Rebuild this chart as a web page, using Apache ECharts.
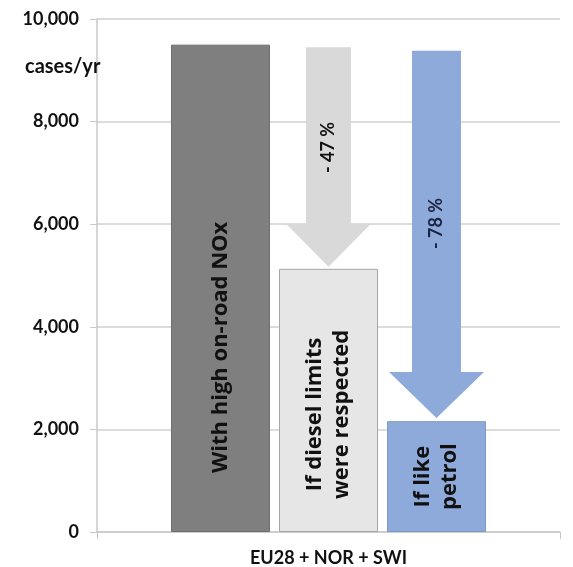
<!DOCTYPE html>
<html>
<head>
<meta charset="utf-8">
<script src="https://cdn.jsdelivr.net/npm/echarts@6/dist/echarts.min.js"></script>
<style>
  html, body { margin: 0; padding: 0; background: #fff; }
  #chart { width: 573px; height: 567px; }
</style>
</head>
<body>
<div id="chart"></div>
<script>
// data
var categories = ['EU28 + NOR + SWI'];
var seriesNames = ['With high on-road NOx', 'If diesel limits\nwere respected', 'If like\npetrol'];
var values = [9500, 5130, 2160];
var barColors = ['#7f7f7f', '#e6e6e6', '#8eaadb'];
var barBorders = ['#6f6f6f', '#a6a6a6', '#7f98c4'];
// label is rotated, so the shift runs along the text direction (negative = down)
var labelShift = [-59, -14, 0];

// arrows: from value, to value, which bar slot they sit on (-1,0,1)
var arrowFrom = [9450, 9380];
var arrowTo = [5170, 2220];
var arrowSlot = [0, 1];
var arrowLabels = ['- 47 %', '- 78 %'];
var arrowColors = ['#d9d9d9', '#8eaadb'];
var arrowTextColors = ['#111', '#1b2440'];

var yTicks = [0, 2000, 4000, 6000, 8000, 10000];

var FONT = 'Lato, "Open Sans", sans-serif';
var BAR_FONT = '"Open Sans", Lato, sans-serif';
var BAR_W = 99;
var GAP = 9;

var chart = echarts.init(document.getElementById('chart'));

var barSeries = values.map(function (v, i) {
    return {
        name: seriesNames[i],
        type: 'bar',
        barWidth: BAR_W,
        barGap: (GAP / BAR_W * 100).toFixed(1) + '%',
        data: [v],
        itemStyle: {
            color: barColors[i],
            borderColor: barBorders[i],
            borderWidth: 1
        },
        label: {
            show: true,
            position: 'inside',
            rotate: 90,
            offset: [labelShift[i], 0],
            formatter: seriesNames[i],
            color: '#111',
            fontFamily: BAR_FONT,
            fontWeight: 'bold',
            fontSize: 22,
            lineHeight: 27
        },
        z: 2
    };
});

var arrowData = arrowFrom.map(function (f, i) {
    return [0, f, arrowTo[i], arrowSlot[i], i];
});

var arrowSeries = {
    type: 'custom',
    data: arrowData,
    encode: { x: 0, y: [1, 2] },
    z: 5,
    renderItem: function (params, api) {
        var idx = api.value(4);
        var top = api.coord([api.value(0), api.value(1)]);
        var tip = api.coord([api.value(0), api.value(2)]);
        var cx = top[0] + api.value(3) * (BAR_W + GAP);
        var shaftHalf = idx === 0 ? 22.5 : 24.5;
        var headHalf = idx === 0 ? 42.5 : 47.5;
        var headLen = idx === 0 ? 43 : 46;
        var neck = tip[1] - headLen;
        var pts = [
            [cx - shaftHalf, top[1]],
            [cx + shaftHalf, top[1]],
            [cx + shaftHalf, neck],
            [cx + headHalf, neck],
            [cx, tip[1]],
            [cx - headHalf, neck],
            [cx - shaftHalf, neck]
        ];
        return {
            type: 'group',
            children: [{
                type: 'polygon',
                shape: { points: pts },
                style: { fill: arrowColors[idx], stroke: null }
            }, {
                type: 'text',
                x: cx,
                y: (top[1] + neck) / 2 + 12,
                rotation: Math.PI / 2,
                style: {
                    text: arrowLabels[idx],
                    fill: arrowTextColors[idx],
                    font: 'bold 18px ' + FONT,
                    align: 'center',
                    verticalAlign: 'middle'
                }
            }]
        };
    }
};

var option = {
    animation: false,
    backgroundColor: '#fff',
    title: {
        text: 'cases/yr',
        left: 20,
        top: 52,
        textStyle: { fontFamily: FONT, fontWeight: 'bold', fontSize: 20, color: '#111' }
    },
    grid: { left: 97, right: 13, top: 19, bottom: 35 },
    xAxis: {
        type: 'category',
        data: categories,
        axisLine: { lineStyle: { color: '#c8c8c8', width: 1.5 } },
        axisTick: { show: true, length: 7, lineStyle: { color: '#c8c8c8' } },
        axisLabel: {
            margin: 17,
            color: '#111',
            fontFamily: FONT,
            fontWeight: 'bold',
            fontSize: 18
        }
    },
    yAxis: {
        type: 'value',
        min: yTicks[0],
        max: yTicks[yTicks.length - 1],
        interval: yTicks[1] - yTicks[0],
        axisLine: { show: true, lineStyle: { color: '#c8c8c8', width: 1.5 } },
        axisTick: { show: true, length: 7, lineStyle: { color: '#c8c8c8' } },
        splitLine: { lineStyle: { color: '#d0d0d0', width: 1.5 } },
        axisLabel: {
            margin: 18,
            color: '#111',
            fontFamily: FONT,
            fontWeight: 'bold',
            fontSize: 18,
            formatter: function (v) { return v.toLocaleString('en-US'); }
        }
    },
    series: barSeries.concat([arrowSeries])
};

chart.setOption(option);
window.addEventListener('resize', function () {
    chart.resize();
});
</script>
</body>
</html>
